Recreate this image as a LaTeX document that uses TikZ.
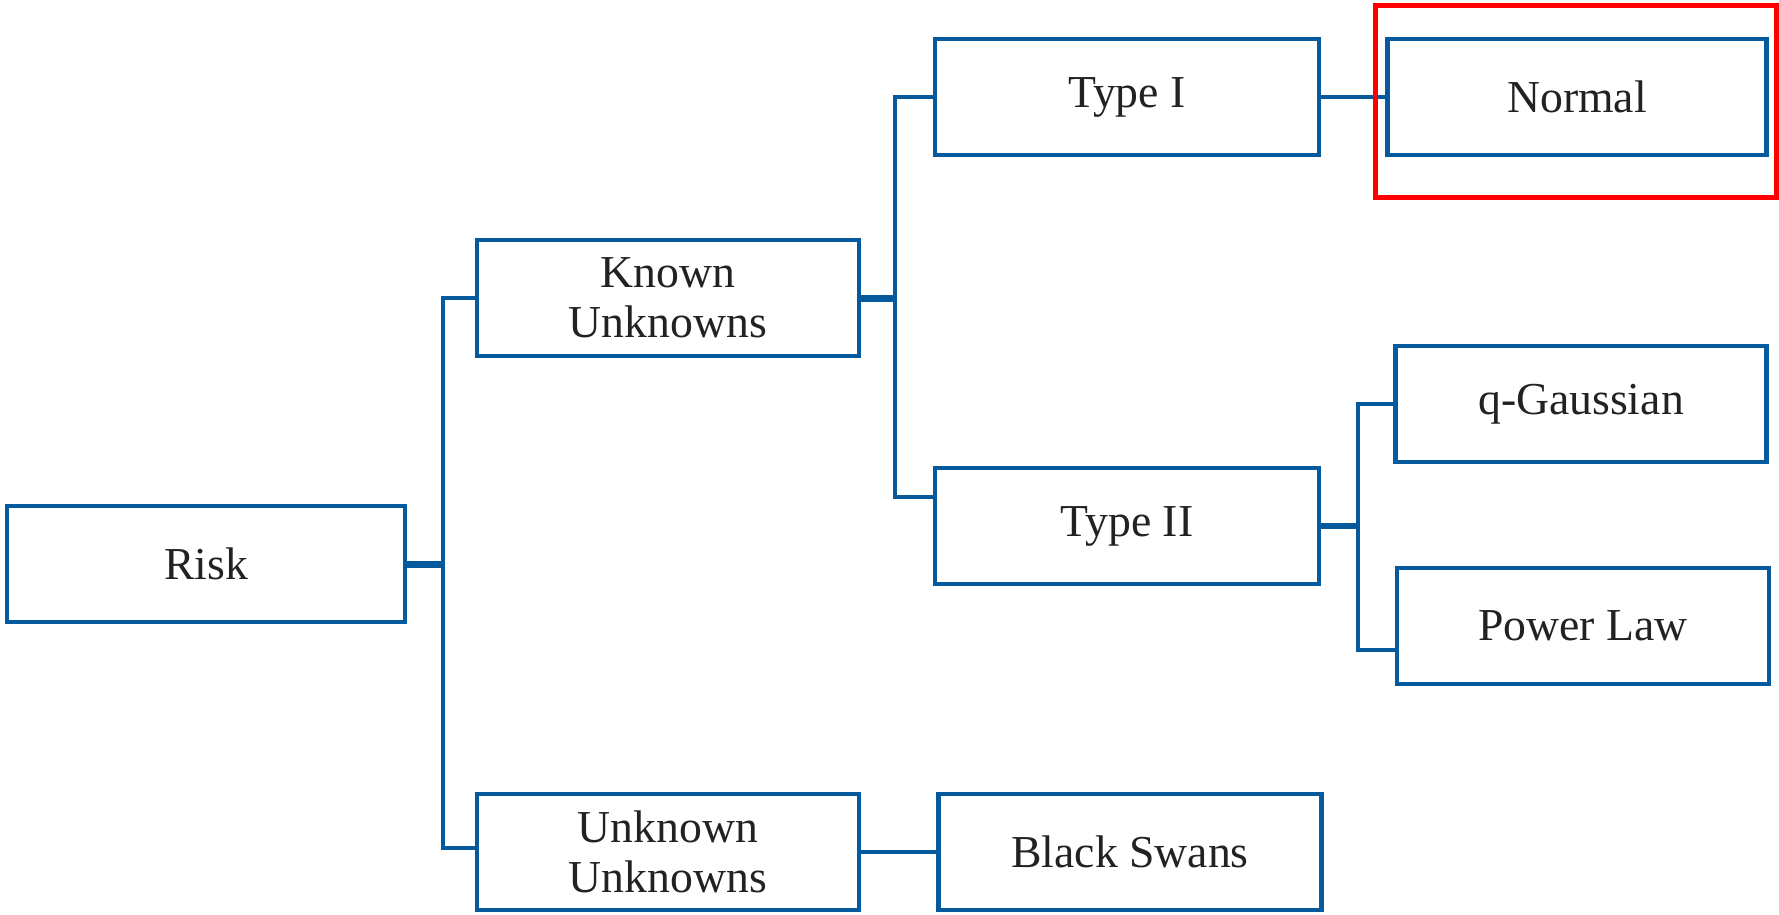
\documentclass[tikz,border=0pt]{standalone}
\usepackage{fontspec}
\setmainfont{Liberation Serif}
\usepackage{tikz}
\definecolor{riskblue}{RGB}{4,90,156}
\definecolor{textgray}{RGB}{34,34,34}
\tikzstyle{BoxNode}=[rectangle, draw=riskblue, line width=0.045cm, inner sep=0pt, minimum height=1.16cm, align=center, text=textgray, font=\fontsize{13}{14.2}\selectfont]
\tikzstyle{Conn}=[draw=riskblue, line width=0.04cm]
\tikzstyle{Stub}=[draw=riskblue, line width=0.07cm]

\begin{document}
\begin{tikzpicture}[x=0.01cm, y=-0.01cm]
      \useasboundingbox (0,0) rectangle (1779,914);
      \node[BoxNode, minimum width=3.98cm] (risk) at (206,564) {Risk};
      \node[BoxNode, minimum width=3.82cm] (known) at (668,298) {Known\\Unknowns};
      \node[BoxNode, minimum width=3.82cm] (unknown) at (668,852) {Unknown\\Unknowns};
      \node[BoxNode, minimum width=3.84cm] (type1) at (1127,97) {Type I};
      \node[BoxNode, minimum width=3.84cm] (type2) at (1127,526) {Type II};
      \node[BoxNode, minimum width=3.83cm] (swans) at (1130,852) {Black Swans};
      \node[BoxNode, minimum width=3.79cm] (normal) at (1577,97) {Normal};
      \node[BoxNode, minimum width=3.71cm] (gauss) at (1581,404) {q-Gaussian};
      \node[BoxNode, minimum width=3.72cm] (power) at (1583,626) {Power Law};
      \coordinate (j1) at (443,564);
      \coordinate (j2) at (895,298);
      \coordinate (j3) at (1358,526);
      % elbows
      \draw[Stub] (risk.east) -- (j1);
      \draw[Conn] (known.west) -| (j1) |- ([yshift=0.04cm]unknown.west);
      \draw[Stub] (known.east) -- (j2);
      \draw[Conn] (type1.west) -| (j2) |- ([yshift=0.29cm]type2.west);
      \draw[Stub, line width=0.055cm] (type2.east) -- (j3);
      \draw[Conn] (gauss.west) -| (j3) |- ([yshift=-0.24cm]power.west);
      \draw[Conn] (type1) -- (normal);
      \draw[Conn] (unknown) -- (swans);
      % highlight
      \draw[red, line width=0.05cm] (1375,5) rectangle (1776,197);
\end{tikzpicture}
\end{document}
